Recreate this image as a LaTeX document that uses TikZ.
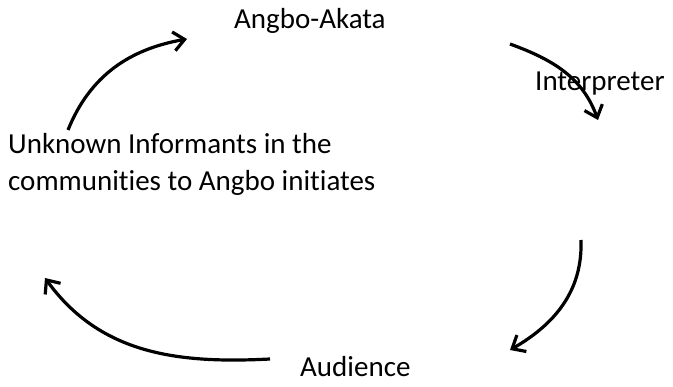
\documentclass[tikz,border=0pt]{standalone}
\usepackage{fontspec}
\setmainfont{Carlito}[Ligatures={NoCommon,NoContextual}]
\usetikzlibrary{arrows.meta}
\newcommand{\lablnode}[4]{\node[shape=rectangle,draw=none,fill=none,inner sep=0pt,anchor=base west,align=left,font=\fontsize{29}{37}\selectfont] (#1) at ( #2 , #3 ) {#4};}
\newcommand{\cycarrow}[4]{\draw[line width=3.2pt,-{Straight Barb[length=11pt,width=19pt]}] (#1) to[out=#3,in=#4] (#2);}

\begin{document}
\begin{tikzpicture}[x=1pt,y=1pt]
        \useasboundingbox (0,0) rectangle (673,-387);

        % labels
        \lablnode{akata}{234}{-29}{Angbo-Akata}
        \lablnode{interp}{535}{-91}{Interpreter}
        \lablnode{unknown}{8}{-191}{Unknown Informants in the\\communities to Angbo initiates}
        \lablnode{audience}{300}{-377}{Audience}

        % arrow ends
        \coordinate (s1) at (68,-130);
        \coordinate (e1) at (187,-39);
        \coordinate (s2) at (510,-44);
        \coordinate (e2) at (598,-120);
        \coordinate (s3) at (581,-240);
        \coordinate (e3) at (510,-350);
        \coordinate (s4) at (270,-359);
        \coordinate (e4) at (45,-278);

        % arrows
        \cycarrow{s1}{e1}{68}{190}
        \cycarrow{s2}{e2}{-20}{110}
        \cycarrow{s3}{e3}{-88}{30}
        \cycarrow{s4}{e4}{183}{-54}
\end{tikzpicture}
\end{document}
